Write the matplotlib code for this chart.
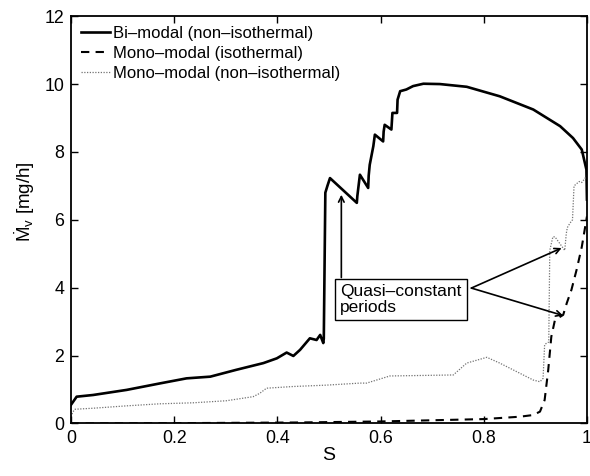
import matplotlib
matplotlib.use("Agg")
import matplotlib.pyplot as plt

plt.rcParams['font.family'] = ['Liberation Sans', 'DejaVu Sans']
plt.rcParams['mathtext.fontset'] = 'custom'
plt.rcParams['mathtext.rm'] = 'Liberation Sans'
plt.rcParams['mathtext.it'] = 'Liberation Sans'

# Bi-modal (non-isothermal)
bi_s = [0, 0.011, 0.043, 0.108, 0.172, 0.224, 0.27, 0.32, 0.373, 0.399, 0.418, 0.431,
        0.444, 0.463, 0.476, 0.483, 0.489, 0.490, 0.493, 0.497, 0.502, 0.554, 0.555,
        0.56, 0.576, 0.577, 0.579, 0.586, 0.589, 0.605, 0.606, 0.608, 0.621, 0.622,
        0.623, 0.632, 0.633, 0.638, 0.65, 0.663, 0.683, 0.715, 0.767, 0.831, 0.896,
        0.948, 0.973, 0.99, 0.999, 1.0]
bi_m = [0.55, 0.79, 0.84, 0.99, 1.18, 1.33, 1.38, 1.58, 1.78, 1.92, 2.09, 1.99,
        2.17, 2.51, 2.46, 2.61, 2.37, 2.5, 6.8, 7.0, 7.23, 6.5, 6.7,
        7.33, 6.94, 7.3, 7.62, 8.17, 8.51, 8.31, 8.6, 8.8, 8.66, 8.9,
        9.15, 9.15, 9.54, 9.79, 9.84, 9.94, 10.01, 10.0, 9.92, 9.64, 9.25,
        8.76, 8.41, 8.07, 7.48, 6.6]

# Mono-modal (isothermal)
iso_s = [0, 0.2, 0.44, 0.6, 0.80, 0.87, 0.896, 0.909, 0.918, 0.925, 0.931, 0.938,
         0.954, 0.961, 0.97, 0.98, 0.99, 1.0]
iso_m = [0.0, 0.01, 0.03, 0.06, 0.13, 0.2, 0.25, 0.35, 0.69, 1.58, 2.56, 3.05,
         3.2, 3.55, 3.94, 4.53, 5.2, 6.1]

# Mono-modal (non-isothermal)
non_s = [0, 0.004, 0.008, 0.043, 0.108, 0.172, 0.237, 0.301, 0.353, 0.366, 0.379,
         0.431, 0.495, 0.56, 0.573, 0.618, 0.741, 0.767, 0.806, 0.831, 0.896, 0.909,
         0.915, 0.918, 0.922, 0.926, 0.928, 0.934, 0.938, 0.957, 0.96, 0.962, 0.967,
         0.972, 0.975, 0.985, 0.99, 1.0]
non_m = [0.2, 0.35, 0.42, 0.45, 0.52, 0.58, 0.61, 0.67, 0.79, 0.89, 1.04,
         1.09, 1.13, 1.19, 1.19, 1.4, 1.43, 1.78, 1.95, 1.78, 1.28, 1.23,
         1.33, 2.32, 2.37, 2.4, 5.1, 5.5, 5.5, 5.1, 5.6, 5.77, 5.9,
         6.0, 7.0, 7.13, 7.1, 7.3]

labels = ['Bi–modal (non–isothermal)', 'Mono–modal (isothermal)',
          'Mono–modal (non–isothermal)']
annot_text = 'Quasi–constant\nperiods'
annot_pos = (0.522, 3.65)
arrow_targets = [(0.524, 6.74), (0.951, 5.17), (0.954, 3.18)]
arrow_starts = [(0.524, 4.3), (0.776, 3.99), (0.776, 3.99)]

xticks = [0, 0.2, 0.4, 0.6, 0.8, 1]
xticklabels = ['0', '0.2', '0.4', '0.6', '0.8', '1']
yticks = [0, 2, 4, 6, 8, 10, 12]

fig = plt.figure(figsize=(5.9, 4.76), dpi=100)
ax = fig.add_axes([0.1203, 0.1103, 0.8745, 0.8557])

ax.plot(bi_s, bi_m, color='black', lw=1.9, linestyle='-', label=labels[0])
ax.plot(iso_s, iso_m, color='black', lw=1.5, linestyle=(0, (4, 3)), label=labels[1])
ax.plot(non_s, non_m, color='0.45', lw=0.9, linestyle=(0, (1, 1.2)), label=labels[2])

ax.set_xlim(0, 1)
ax.set_ylim(0, 12)
ax.set_xticks(xticks)
ax.set_xticklabels(xticklabels)
ax.set_yticks(yticks)
ax.tick_params(direction='in', length=5, width=1, labelsize=12.8,
               top=True, right=True, pad=5)
for sp in ax.spines.values():
    sp.set_linewidth(1.3)

ax.set_xlabel('S', fontsize=14, labelpad=0)
ax.set_ylabel(r'$\dot{\mathrm{M}}_\mathrm{v}$ [mg/h]', fontsize=13.5)
ax.yaxis.set_label_coords(-0.066, 0.545)

leg = ax.legend(loc='upper left', frameon=False, fontsize=12, handlelength=1.75,
                handletextpad=0.15, borderaxespad=0.2, labelspacing=0.3,
                bbox_to_anchor=(0.0, 1.0))

ax.text(annot_pos[0], annot_pos[1], annot_text, fontsize=12.5, ha='left', va='center',
        linespacing=1.05,
        bbox=dict(boxstyle='square,pad=0.3', facecolor='white', edgecolor='black', lw=1.0),
        zorder=5)
for (xt, yt), (xs, ys) in zip(arrow_targets, arrow_starts):
    ax.annotate('', xy=(xt, yt), xytext=(xs, ys),
                arrowprops=dict(arrowstyle='->', color='black', lw=1.2,
                                shrinkA=0, shrinkB=0, mutation_scale=10),
                zorder=4)

fig.savefig('out.png', dpi=100)
